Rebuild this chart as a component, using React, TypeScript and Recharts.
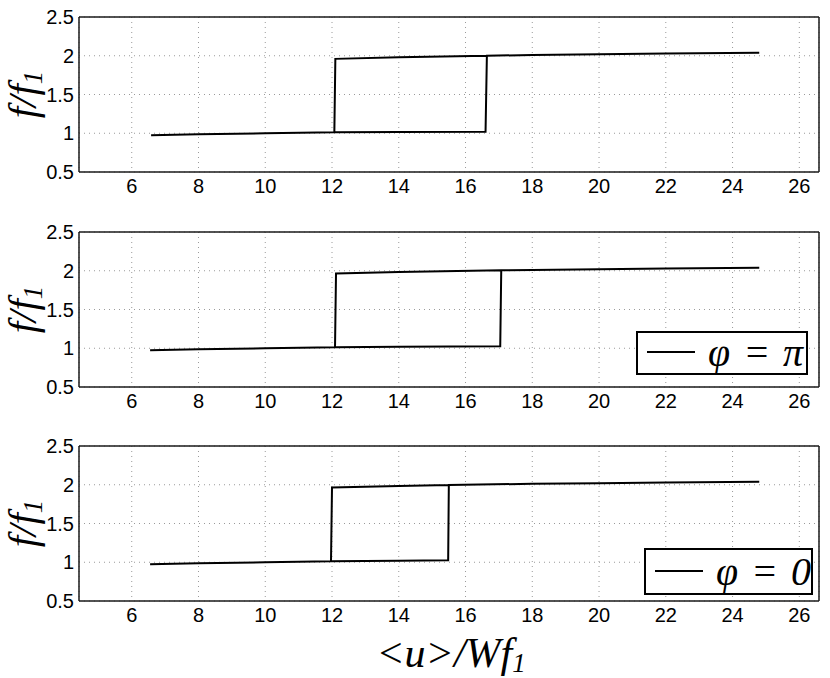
import React from "react"
import { LineChart, Line, XAxis, YAxis, CartesianGrid } from "recharts"

const xTicks = [6, 8, 10, 12, 14, 16, 18, 20, 22, 24, 26]
const yTicks = [0.5, 1, 1.5, 2, 2.5]

// top panel: forward sweep on the lower branch, back along the upper branch
const topX = [6.58, 8, 10, 12.07, 14, 16.6, 16.64, 18, 20, 22, 24.8, 22, 20, 18, 16.64, 14, 12.1, 12.07]
const topY = [0.974, 0.988, 1.0, 1.012, 1.017, 1.02, 2.0, 2.01, 2.02, 2.03, 2.04, 2.03, 2.02, 2.01, 2.0, 1.982, 1.96, 1.012]

// phi = pi
const piX = [6.55, 8, 10, 12.09, 14, 17.04, 17.07, 18, 20, 22, 24.8, 22, 20, 18, 17.07, 14, 12.12, 12.09]
const piY = [0.975, 0.988, 1.0, 1.014, 1.02, 1.025, 2.005, 2.01, 2.02, 2.03, 2.04, 2.03, 2.02, 2.01, 2.005, 1.985, 1.965, 1.014]

// phi = 0
const zeroX = [6.55, 8, 10, 11.97, 14, 15.48, 15.5, 18, 20, 22, 24.8, 22, 20, 18, 15.5, 14, 12.0, 11.97]
const zeroY = [0.975, 0.988, 1.0, 1.014, 1.02, 1.025, 1.998, 2.012, 2.02, 2.03, 2.04, 2.03, 2.02, 2.012, 1.998, 1.985, 1.965, 1.014]

const X_DOMAIN: [number, number] = [4.42, 26.59]
const Y_DOMAIN: [number, number] = [0.5, 2.5]

const sans = "'Liberation Sans', Arial, Helvetica, sans-serif"
const serif = "'Liberation Serif', 'Times New Roman', serif"
const tickFont = { fontFamily: sans, fontSize: 20, fill: "#000" }
const axisStroke = { stroke: "#1a1a1a", strokeWidth: 1.5 }
const tickStroke = { stroke: "#333", strokeWidth: 1 }

const toPoints = (xs: number[], ys: number[]) => xs.map((x, i) => ({ x, y: ys[i] }))

const renderYLabel = (props: any) => {
  const vb = props.viewBox || { y: 17, height: 155 }
  const cx = 36
  const cy = vb.y + vb.height / 2
  return (
    <text
      transform={`rotate(-90, ${cx}, ${cy})`}
      x={cx}
      y={cy}
      textAnchor="middle"
      fontFamily={serif}
      fontStyle="italic"
      fontSize={41}
      fill="#000"
    >
      f/f<tspan fontSize={27} dy={6}>1</tspan>
    </text>
  )
}

const renderXLabel = (props: any) => {
  const vb = props.viewBox || { x: 79, width: 740, y: 601 }
  return (
    <text
      x={vb.x + vb.width / 2 + 2}
      y={vb.y + 66}
      textAnchor="middle"
      fontFamily={serif}
      fontStyle="italic"
      fontSize={42}
      fill="#000"
    >
      {"<u>/Wf"}
      <tspan fontSize={27} dy={5}>1</tspan>
    </text>
  )
}

type LegendProps = { left: number; top: number; width: number; height: number; label: string }

function LegendBox({ left, top, width, height, label }: LegendProps) {
  return (
    <div
      style={{
        position: "absolute",
        left,
        top,
        width,
        height,
        boxSizing: "border-box",
        border: "2.5px solid #000",
        background: "#fff",
        display: "flex",
        alignItems: "center",
        paddingLeft: 9,
      }}
    >
      <div style={{ width: 48, borderTop: "2px solid #000", marginRight: 13, marginTop: -2 }} />
      <span
        style={{
          fontFamily: serif,
          fontStyle: "italic",
          fontSize: 40,
          lineHeight: 1,
          whiteSpace: "pre",
          wordSpacing: 3,
        }}
      >
        {label}
      </span>
    </div>
  )
}

type PanelProps = {
  xs: number[]
  ys: number[]
  top: number
  height: number
  bottom: number
  showXLabel?: boolean
  children?: React.ReactNode
}

function Panel({ xs, ys, top, height, bottom, showXLabel, children }: PanelProps) {
  const data = toPoints(xs, ys)
  return (
    <div style={{ position: "absolute", left: 0, top, width: 830, height }}>
      <LineChart width={830} height={height} data={data} margin={{ top: 17, right: 11, left: 9, bottom }}>
        <CartesianGrid stroke="#9a9a9a" strokeDasharray="1 4" />
        <XAxis
          dataKey="x"
          type="number"
          domain={X_DOMAIN}
          ticks={xTicks}
          allowDataOverflow
          height={30}
          tickLine={false}
          tickSize={0}
          tickMargin={7}
          tick={tickFont}
          axisLine={axisStroke}
          label={showXLabel ? renderXLabel : undefined}
        />
        <XAxis
          xAxisId="bottomTicks"
          dataKey="x"
          type="number"
          domain={X_DOMAIN}
          ticks={xTicks}
          allowDataOverflow
          mirror
          tick={false}
          tickSize={8}
          tickLine={tickStroke}
          axisLine={false}
        />
        <XAxis
          xAxisId="topTicks"
          orientation="top"
          dataKey="x"
          type="number"
          domain={X_DOMAIN}
          ticks={xTicks}
          allowDataOverflow
          mirror
          tick={false}
          tickSize={8}
          tickLine={tickStroke}
          axisLine={axisStroke}
        />
        <YAxis
          type="number"
          domain={Y_DOMAIN}
          ticks={yTicks}
          allowDataOverflow
          width={70}
          tickLine={false}
          tickSize={0}
          tickMargin={5}
          tick={tickFont}
          axisLine={axisStroke}
          label={renderYLabel}
        />
        <YAxis
          yAxisId="leftTicks"
          type="number"
          domain={Y_DOMAIN}
          ticks={yTicks}
          allowDataOverflow
          mirror
          tick={false}
          tickSize={8}
          tickLine={tickStroke}
          axisLine={false}
        />
        <YAxis
          yAxisId="rightTicks"
          orientation="right"
          type="number"
          domain={Y_DOMAIN}
          ticks={yTicks}
          allowDataOverflow
          mirror
          tick={false}
          tickSize={8}
          tickLine={tickStroke}
          axisLine={axisStroke}
        />
        <Line
          type="linear"
          dataKey="y"
          stroke="#000"
          strokeWidth={2}
          dot={false}
          activeDot={false}
          isAnimationActive={false}
        />
      </LineChart>
      {children}
    </div>
  )
}

export default function App() {
  return (
    <div style={{ position: "absolute", left: 0, top: 0, width: 830, height: 678, background: "#fff" }}>
      <Panel xs={topX} ys={topY} top={0} height={214} bottom={12} />
      <Panel xs={piX} ys={piY} top={215} height={214} bottom={12}>
        <LegendBox left={636} top={116} width={172} height={44} label="φ = π" />
      </Panel>
      <Panel xs={zeroX} ys={zeroY} top={429} height={249} bottom={47} showXLabel>
        <LegendBox left={644} top={119} width={169} height={47} label="φ = 0" />
      </Panel>
    </div>
  )
}
